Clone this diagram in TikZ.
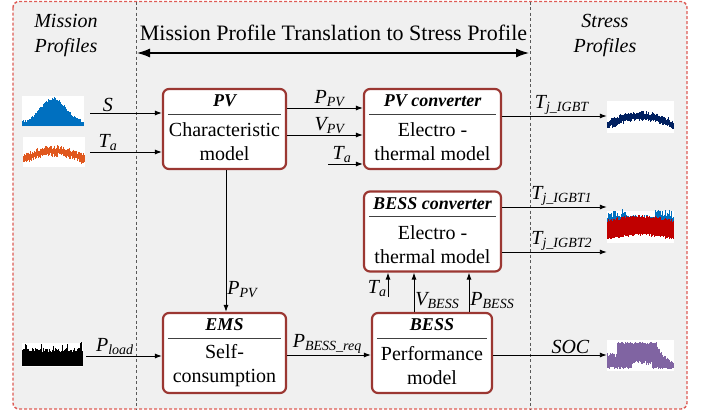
\documentclass[tikz,border=0pt]{standalone}
\usepackage{fontspec}
\setmainfont{Liberation Serif}
\usetikzlibrary{arrows.meta,calc}
\definecolor{boxred}{RGB}{155,55,50}
\definecolor{outred}{RGB}{222,92,86}
\definecolor{bgray}{RGB}{240,240,240}
\definecolor{pblue}{RGB}{0,112,192}
\definecolor{porange}{RGB}{224,88,30}
\definecolor{pnavy}{RGB}{0,32,96}
\definecolor{pred}{RGB}{192,0,0}
\definecolor{ppurple}{RGB}{128,100,162}
\newcommand\lsub[1]{\textsubscript{\textit{#1}}}
\newcommand\mkbox[7]{%
  \node[mbox, minimum width=#4pt] (#1) at (#2,#3) {};
  \node[ttl] (#1-t) at ($(#1.north)+(0,13)$) {#5};
  \draw[sepl] ($(#1.north west)+(6,26)$) -- ($(#1.north east)+(-6,26)$);
  \node[bodyt] (#1-b) at ($(#1.north)+(0,#7)$) {#6};
}
\begin{document}
\begin{tikzpicture}[x=1pt,y=-1pt,
  mbox/.style={draw=boxred, line width=2.2pt, rounded corners=6pt, fill=white, minimum height=80pt, inner sep=0pt},
  ttl/.style={font=\fontsize{18}{20}\selectfont\bfseries\itshape, inner sep=0pt},
  bodyt/.style={font=\fontsize{20}{24}\selectfont, align=center, inner sep=0pt},
  sepl/.style={draw=black!75, line width=0.8pt},
  arr/.style={draw=black, line width=0.9pt, -{Latex[length=7pt,width=5pt]}},
  lbl/.style={font=\fontsize{20}{22}\selectfont\itshape, inner sep=1pt},
  imgbg/.style={fill=white, draw=none, inner sep=0pt},
  hdr/.style={font=\fontsize{20}{25}\selectfont\itshape, align=center, inner sep=0pt}]
\useasboundingbox (0,0) rectangle (701,415);
% outer frame
\draw[outred, line width=1.4pt, dash pattern=on 3pt off 2pt, fill=bgray, rounded corners=6pt] (13,1.5) rectangle (687,409);
\draw[black!65, line width=0.8pt, dash pattern=on 3pt off 2.5pt] (136,1.5) -- (136,409);
\draw[black!65, line width=0.8pt, dash pattern=on 3pt off 2.5pt] (530,1.5) -- (530,409);
% headers
\node[hdr] (mp) at (66,36) {Mission\\Profiles};
\node[hdr] (sp) at (605,36) {Stress\\Profiles};
\node[font=\fontsize{22}{24}\selectfont, inner sep=0pt] (title) at (333.5,33) {Mission Profile Translation to Stress Profile};
\coordinate (dl) at (137,53);
\coordinate (dr) at (529,53);
\draw[line width=1.2pt, {Latex[length=13pt,width=9pt]}-{Latex[length=13pt,width=9pt]}] (dl) -- (dr);
% boxes
\mkbox{pv}{224.5}{129}{123}{PV}{Characteristic\\model}{54}
\mkbox{pvc}{432.5}{129}{137}{PV converter}{Electro -\\thermal model}{54}
\mkbox{bc}{432.5}{231.5}{137}{BESS converter}{Electro -\\thermal model}{54}
\mkbox{ems}{224.5}{353}{123}{EMS}{Self-\\consumption}{54}
\mkbox{bess}{432}{353}{120}{BESS}{Performance\\model}{54}
% profile images
\node[imgbg, minimum width=62pt, minimum height=30pt] (imgS) at (53,111) {};
\node[imgbg, minimum width=62pt, minimum height=30pt] (imgTa) at (54,152) {};
\node[imgbg, minimum width=67pt, minimum height=32pt] (imgTj) at (640.5,117) {};
\node[imgbg, minimum width=67pt, minimum height=32pt] (imgTj12) at (640.5,227) {};
\node[imgbg, minimum width=61pt, minimum height=24pt] (imgL) at (52.5,355) {};
\node[imgbg, minimum width=67pt, minimum height=31pt] (imgSOC) at (640.5,355.5) {};
\pgfmathsetseed{11}
% S profile (blue bump)
\foreach \i in {0,...,61}{
  \pgfmathsetmacro\h{25*exp(-((\i-31)/18)^2)+3*rnd+1.5}
  \draw[pblue, line width=1.15pt] (22.5+\i,126) -- (22.5+\i,126-\h);
}
% Ta profile (orange band)
\foreach \i in {0,...,61}{
  \pgfmathsetmacro\c{159-8*sin(180*\i/61)}
  \pgfmathsetmacro\t{\c-2-4*rnd}
  \pgfmathsetmacro\b{\c+2+4*rnd}
  \draw[porange, line width=1.15pt] (23.5+\i,\t) -- (23.5+\i,\b);
}
% Tj profile (navy band)
\foreach \i in {0,...,66}{
  \pgfmathsetmacro\c{125-9*sin(180*\i/66)}
  \pgfmathsetmacro\t{\c-2-3.5*rnd}
  \pgfmathsetmacro\b{\c+2+3.5*rnd}
  \draw[pnavy, line width=1.15pt] (607.5+\i,\t) -- (607.5+\i,\b);
}
% Tj1/Tj2 profile (blue + red)
\foreach \i in {0,...,66}{
  \pgfmathsetmacro\rt{222-4*sin(180*\i/66)-3*rnd}
  \pgfmathsetmacro\bt{\rt-(abs(\i-33)>14)*(2+6*rnd)-1.5*rnd}
  \pgfmathsetmacro\rb{238-4*sin(180*\i/66)+2*rnd}
  \draw[pblue, line width=1.15pt] (607.5+\i,\bt) -- (607.5+\i,\rt+2);
  \draw[pred, line width=1.15pt] (607.5+\i,\rt) -- (607.5+\i,\rb);
}
% load profile (black)
\foreach \i in {0,...,60}{
  \pgfmathsetmacro\h{14+4*rnd+(rnd>0.88)*6}
  \draw[black, line width=1.15pt] (22.5+\i,366) -- (22.5+\i,366-\h);
}
% SOC profile (purple)
\foreach \i in {0,...,66}{
  \pgfmathsetmacro\tp{(\i<10)*(353+4*rnd)+(\i>=10)*(\i<50)*(342+2*rnd)+(\i>=50)*(\i<55)*(344+(\i-50)*2+3*rnd)+(\i>=55)*(354+(\i-55)*0.6+3*rnd)}
  \pgfmathsetmacro\bt{(\i>24)*(\i<45)*(361+4*rnd)+((\i<=24)||(\i>=45))*(369-2*rnd)}
  \draw[ppurple, line width=1.15pt] (607.5+\i,\tp) -- (607.5+\i,\bt);
}
% connectors
\coordinate (sIn) at (90,113);
\coordinate (taIn) at (90,152);
\coordinate (taC) at (328,164);
\coordinate (taB) at (388,297);
\coordinate (lIn) at (86,356);
\draw[arr] (sIn) -- (sIn -| pv.west) node[lbl, pos=0.25, above] {S};
\draw[arr] (taIn) -- (taIn -| pv.west) node[lbl, pos=0.25, above] {T\lsub{a}};
\draw[arr] ($(pv.east)+(0,-21)$) -- ($(pvc.west)+(0,-21)$) node[lbl, pos=0.56, above] {P\lsub{PV}};
\draw[arr] ($(pv.east)+(0,6)$) -- ($(pvc.west)+(0,6)$) node[lbl, pos=0.56, above] {V\lsub{PV}};
\draw[arr] (taC) -- (taC -| pvc.west) node[lbl, pos=0.4, above] {T\lsub{a}};
\draw[arr] ($(pvc.east)+(0,-13)$) -- (imgTj.west |- 0,116) node[lbl, pos=0.57, above] {T\lsub{j\_IGBT}};
\draw[arr] ($(bc.east)+(0,-24.5)$) -- (imgTj12.west |- 0,207) node[lbl, pos=0.57, above] {T\lsub{j\_IGBT1}};
\draw[arr] ($(bc.east)+(0,20.5)$) -- (imgTj12.west |- 0,252) node[lbl, pos=0.57, above] {T\lsub{j\_IGBT2}};
\draw[arr] ($(pv.south)+(1.5,0)$) -- ($(ems.north)+(1.5,0)$) node[lbl, pos=0.84, right] {P\lsub{PV}};
\draw[arr] (lIn) -- (lIn -| ems.west) node[lbl, pos=0.38, above] {P\lsub{load}};
\draw[arr] (ems.east |- 0,355) -- (bess.west |- 0,355) node[lbl, pos=0.48, above] {P\lsub{BESS\_req}};
\draw[arr] (bess.east |- 0,355) -- (imgSOC.west |- 0,355) node[lbl, pos=0.68, above] {SOC};
\draw[arr] (taB) -- (taB |- bc.south) node[lbl, pos=0.35, left] {T\lsub{a}};
\draw[arr] (bess.north -| 414,0) -- (bc.south -| 414,0) node[lbl, pos=0.28, right] {V\lsub{BESS}};
\draw[arr] (bess.north -| 469,0) -- (bc.south -| 469,0) node[lbl, pos=0.3, right] {P\lsub{BESS}};
\end{tikzpicture}
\end{document}
